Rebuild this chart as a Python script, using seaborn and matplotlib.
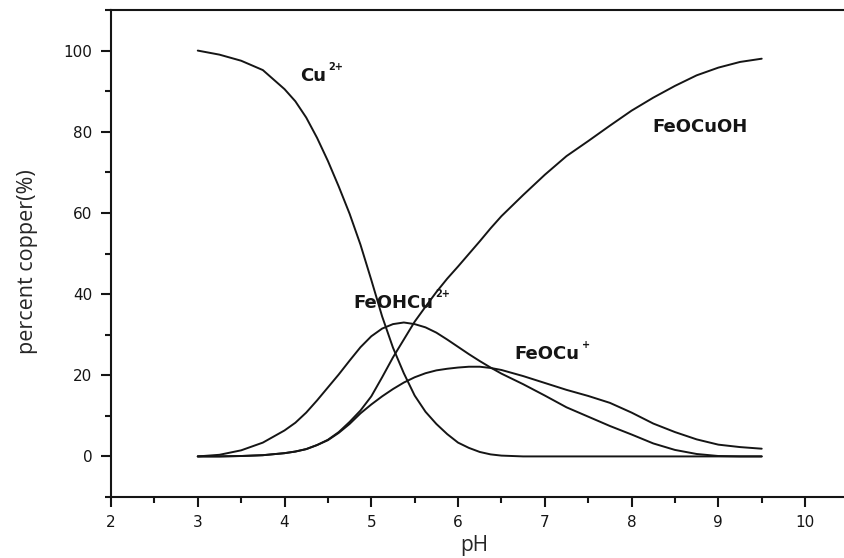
import numpy as np
import pandas as pd
import matplotlib
matplotlib.use("Agg")
import matplotlib.pyplot as plt
import seaborn as sns
from matplotlib.ticker import MultipleLocator

ph = [3.0, 3.25, 3.5, 3.75, 4.0, 4.125, 4.25, 4.375, 4.5, 4.625, 4.75, 4.875,
      5.0, 5.125, 5.25, 5.375, 5.5, 5.625, 5.75, 5.875, 6.0, 6.125, 6.25, 6.375,
      6.5, 6.75, 7.0, 7.25, 7.5, 7.75, 8.0, 8.25, 8.5, 8.75, 9.0, 9.25, 9.5]

cu2 = [100, 99, 97.5, 95.2, 90.5, 87.5, 83.5, 78.5, 72.8, 66.5, 59.8, 52.2,
       43.5, 34.5, 26.8, 20.5, 15.0, 11.0, 8.0, 5.5, 3.4, 2.1, 1.1, 0.5,
       0.2, 0, 0, 0, 0, 0, 0, 0, 0, 0, 0, 0, 0]
feohcu = [0, 0.4, 1.5, 3.4, 6.4, 8.3, 10.8, 13.8, 17.0, 20.2, 23.6, 26.9,
          29.6, 31.5, 32.6, 33.0, 32.6, 31.8, 30.5, 28.8, 27.0, 25.2, 23.5, 21.9,
          20.4, 17.8, 15.0, 12.1, 9.8, 7.5, 5.4, 3.2, 1.6, 0.6, 0.1, 0, 0]
feocu = [0, 0, 0.1, 0.3, 0.8, 1.2, 1.8, 2.8, 4.0, 5.8, 8.0, 10.6,
         12.8, 14.8, 16.6, 18.2, 19.5, 20.5, 21.2, 21.6, 21.9, 22.1, 22.1, 21.8,
         21.3, 19.8, 18.1, 16.4, 14.9, 13.2, 10.8, 8.1, 6.0, 4.2, 2.9, 2.3, 1.9]
feocuoh = [0, 0, 0.1, 0.3, 0.8, 1.2, 1.8, 2.8, 4.1, 6.0, 8.5, 11.3,
           14.8, 19.5, 24.4, 28.8, 33.2, 36.9, 40.5, 43.8, 46.8, 49.9, 53.0, 56.2,
           59.2, 64.4, 69.4, 74, 77.7, 81.5, 85.2, 88.4, 91.3, 93.9, 95.8, 97.2, 98]

species = ["Cu2+", "FeOHCu2+", "FeOCu+", "FeOCuOH"]
series = [cu2, feohcu, feocu, feocuoh]

df = pd.DataFrame({
    "pH": ph * len(species),
    "percent": [v for s in series for v in s],
    "species": [sp for sp in species for _ in ph],
})

sns.set_theme(style="ticks")
plt.rcParams["font.family"] = ["DejaVu Sans"]

fig = plt.figure(figsize=(8.45, 5.58), dpi=100)
ax = fig.add_axes([111 / 845, 61 / 558, 1 - 111 / 845, 487 / 558])

sns.lineplot(data=df, x="pH", y="percent", hue="species",
             palette={sp: "#151515" for sp in species}, legend=False,
             linewidth=1.4, ax=ax, sort=False, estimator=None, units="species")

ax.set_xlim(2, 10.46)
ax.set_ylim(-10, 110)
ax.xaxis.set_major_locator(MultipleLocator(1))
ax.xaxis.set_minor_locator(MultipleLocator(0.5))
ax.yaxis.set_major_locator(MultipleLocator(20))
ax.yaxis.set_minor_locator(MultipleLocator(10))
ax.set_xticks([2, 3, 4, 5, 6, 7, 8, 9, 10])
ax.set_yticks([0, 20, 40, 60, 80, 100])

ax.tick_params(axis="both", which="major", direction="out", length=7.5, width=1.5,
               labelsize=11, colors="#151515")
ax.tick_params(axis="x", which="major", pad=5.5)
ax.tick_params(axis="y", which="major", pad=6)
ax.tick_params(axis="both", which="minor", direction="out", length=4.5, width=1.5,
               colors="#151515")
ax.tick_params(top=False, right=False, which="both")

for side in ["left", "bottom", "top"]:
    ax.spines[side].set_linewidth(1.5)
    ax.spines[side].set_color("#151515")
ax.spines["right"].set_visible(False)

ax.set_xlabel("pH", fontsize=15, family=["Open Sans", "DejaVu Sans"])
ax.set_ylabel("percent copper(%)", fontsize=15.5, family=["Open Sans", "DejaVu Sans"])
ax.yaxis.set_label_coords(-0.099, 0.4825)
ax.xaxis.set_label_coords(0.4946, -0.078)

lab = dict(fontsize=13, fontweight="bold", color="#151515", va="center", ha="left")
sup = dict(fontsize=7, fontweight="bold", color="#151515", va="center", ha="left")


def label(x, y, main, superscript=None):
    t = ax.text(x, y, main, **lab)
    if superscript:
        ax.annotate(superscript, xy=(1.0, 1.0), xycoords=t,
                    xytext=(1.5, 0), textcoords="offset points", **sup)


label(4.18, 93.7, "Cu", "2+")
label(4.79, 37.8, "FeOHCu", "2+")
label(6.65, 25.3, "FeOCu", "+")
label(8.24, 81.2, "FeOCuOH")

fig.savefig("out.png", dpi=100, facecolor="white")
